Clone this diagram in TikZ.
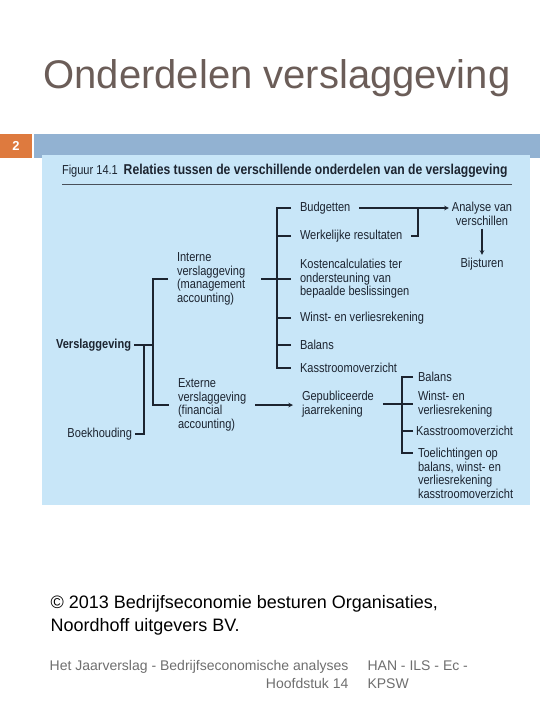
\documentclass[tikz,border=0pt]{standalone}
\usepackage{fontspec}
\setmainfont{Liberation Sans}
\newfontfamily\condfont[FakeStretch=0.85]{Liberation Sans}
\definecolor{titlegray}{RGB}{107,93,88}
\definecolor{numorange}{RGB}{222,122,62}
\definecolor{barblue}{RGB}{146,178,210}
\definecolor{panelblue}{RGB}{200,230,248}
\definecolor{inkdark}{RGB}{28,36,48}
\definecolor{footgray}{RGB}{110,110,110}
\begin{document}
\begin{tikzpicture}[
	x=1pt, y=-1pt,
	>=stealth,
	line width=1.1pt,
	line cap=butt,
	line join=miter,
	item/.style={anchor=west, inner sep=0pt, outer xsep=9pt, align=left, text=inkdark,
		font=\condfont\fontsize{13}{13.5}\selectfont},
	rootitem/.style={item, anchor=east, outer xsep=3pt},
	linkline/.style={draw=inkdark},
	foot/.style={inner sep=0pt, text=footgray, font=\fontsize{14}{18}\selectfont}
	]
	\useasboundingbox (0,0) rectangle (540,720);
	% slide frame
	\node[text=titlegray, font=\fontsize{40}{42}\selectfont] (title) at (277,78) {Onderdelen verslaggeving};
	\fill[numorange] (0,134) rectangle (32,158);
	\fill[barblue] (34,134) rectangle (540,158);
	\node[text=white, font=\bfseries\fontsize{13}{14}\selectfont] (num) at (16,146) {2};
	\fill[panelblue] (42,155) rectangle (530,505);
	\node[item, outer xsep=0pt, font=\condfont\fontsize{13}{14}\selectfont] (caption) at (62,171)
		{Figuur 14.1\hspace{0.45em}{\fontsize{14.3}{14}\selectfont\bfseries Relaties tussen de verschillende onderdelen van de verslaggeving}};
	\draw[inkdark!80, line width=0.8pt] (62,184) -- (512,184);

	% nodes
	\node[rootitem, font=\condfont\bfseries\fontsize{13}{13.5}\selectfont] (verslag) at (134,345) {Verslaggeving};
	\node[rootitem] (boek) at (135,434) {Boekhouding};
	\node[item] (intern) at (168,279) {Interne\\verslaggeving\\(management\\accounting)};
	\node[item] (extern) at (169,405) {Externe\\verslaggeving\\(financial\\accounting)};
	\node[item] (budget) at (291,208) {Budgetten};
	\node[item] (werk) at (291,236) {Werkelijke resultaten};
	\node[item] (kosten) at (291,279) {Kostencalculaties ter\\ondersteuning van\\bepaalde beslissingen};
	\node[item] (winst) at (291,318) {Winst- en verliesrekening};
	\node[item] (balans) at (291,345) {Balans};
	\node[item] (kas) at (291,368) {Kasstroomoverzicht};
	\node[item, anchor=center, align=center, outer sep=3pt] (analyse) at (482,214) {Analyse van\\verschillen};
	\node[item, anchor=center, outer sep=3pt] (bijst) at (482,264) {Bijsturen};
	\node[item] (gepub) at (293,404) {Gepubliceerde\\jaarrekening};
	\node[item, outer xsep=5pt] (bal2) at (413,377) {Balans};
	\node[item, outer xsep=5pt] (winst2) at (413,404) {Winst- en\\verliesrekening};
	\node[item, outer xsep=3pt] (kas2) at (413,431) {Kasstroomoverzicht};
	\node[item, anchor=north west, outer xsep=5pt] (toel) at (413,448) {Toelichtingen op\\balans, winst- en\\verliesrekening\\kasstroomoverzicht};

	% brackets
	\coordinate (sa) at (153,279);
	\coordinate (sb) at (153,405);
	\coordinate (sc) at (144,345);
	\coordinate (ic) at (261,279);
	\coordinate (ia) at (277,208);
	\coordinate (ib) at (277,368);
	\coordinate (mg) at (418,208);
	\coordinate (ea) at (402,377);
	\coordinate (eb) at (402,453);
	\begin{scope}[linkline]
		\draw (intern.west) -- (sa) -- (sb) -- (extern.west);
		\draw (verslag.east) -- (verslag.east -| sa);
		\draw (boek.east) -| (sc);
		\draw (budget.west) -- (ia) -- (ib) -- (kas.west);
		\foreach \n in {werk,winst,balans}
			\draw (\n.west) -- (\n.west -| ia);
		\draw (ic) -- (kosten.west);
		\draw (werk.east) -| (mg);
		\draw (gepub.east) -- (winst2.west);
		\draw (bal2.west) -- (ea) -- (eb) -- (eb -| toel.west);
		\draw (kas2.west) -- (kas2.west -| ea);
	\end{scope}
	\begin{scope}[linkline, ->]
		\draw (budget.east) -- (analyse.west |- budget.east);
		\draw (analyse.south) -- (bijst.north);
		\draw (extern.east) -- (extern.east -| gepub.west);
	\end{scope}

	% footer
	\node[anchor=west, align=left, inner sep=0pt, font=\fontsize{18}{23}\selectfont] (copy) at (50,615.5)
		{© 2013 Bedrijfseconomie besturen Organisaties,\\Noordhoff uitgevers BV.};
	\node[foot, anchor=north east, align=right] (chap) at (349,660)
		{Het Jaarverslag - Bedrijfseconomische analyses\\Hoofdstuk 14};
	\node[foot, anchor=north west, align=left] (org) at (367,660)
		{HAN - ILS - Ec -\\KPSW};
\end{tikzpicture}
\end{document}
